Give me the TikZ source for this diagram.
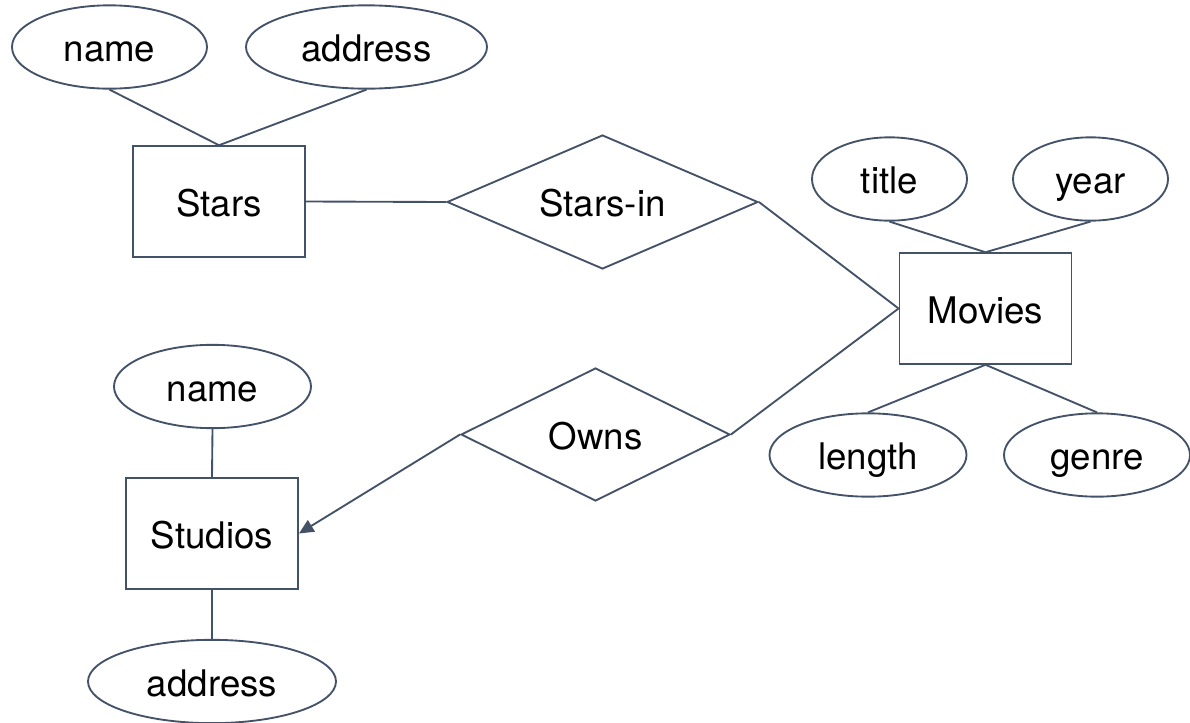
\documentclass[tikz,border=0pt]{standalone}
\usepackage{fontspec}
\setmainfont{TeX Gyre Heros}
\usetikzlibrary{shapes.geometric,arrows.meta}
\definecolor{edge}{RGB}{68,82,104}
\begin{document}
\begin{tikzpicture}[x=0.75pt,y=-0.75pt,
  every node/.style={font=\fontsize{27.5}{32}\selectfont, text=black, draw=edge, line width=1.4pt,
    inner sep=0pt, text height=22pt, text depth=0pt},
  entity/.style={rectangle, minimum width=129pt, minimum height=83pt},
  attr/.style={ellipse, minimum height=62.5pt},
  rel/.style={diamond, aspect=2},
  link/.style={draw=edge, line width=1.4pt},
  arrowlink/.style={link, -{Triangle[length=11pt,width=10pt]}}]
\useasboundingbox (0,0) rectangle (1190,722);

% entities
\node[entity] (stars) at (219,201.5) {Stars};
\node[entity] (movies) at (985.5,308.5) {Movies};
\node[entity] (studios) at (212,533.5) {Studios};

% relationships
\node[rel, minimum width=233.25pt, minimum height=100.5pt] (starsin) at (602.5,202) {Stars-in};
\node[rel, minimum width=201.75pt, minimum height=99.75pt] (owns) at (595.5,434.5) {Owns};

% attributes of Stars
\node[attr, minimum width=146.25pt] (sname) at (109.5,47) {name};
\node[attr, minimum width=180.75pt] (saddr) at (366.5,47) {address};

% attributes of Movies
\node[attr, minimum width=116.25pt] (title) at (889.5,179) {title};
\node[attr, minimum width=116.25pt] (year) at (1090.5,179) {year};
\node[attr, minimum width=147.75pt] (length) at (868,455) {length};
\node[attr, minimum width=139.5pt] (genre) at (1097,455) {genre};

% attributes of Studios
\node[attr, minimum width=147.75pt] (stname) at (212.5,386.5) {name};
\node[attr, minimum width=186pt] (staddr) at (212,681.5) {address};

% connectors
\draw[link] (sname.south) -- (stars.north);
\draw[link] (saddr.south) -- (stars.north);
\draw[link] (title.south) -- (movies.north);
\draw[link] (year.south) -- (movies.north);
\draw[link] (movies.south) -- (length.north);
\draw[link] (movies.south) -- (genre.north);
\draw[link] (stname.south) -- (studios.north);
\draw[link] (studios.south) -- (staddr.north);
\draw[link] (stars.east) -- (starsin.west);
\draw[link] (starsin.east) -- (movies.west);
\draw[link] (owns.east) -- (movies.west);
\draw[arrowlink] (owns.west) -- (studios.east);
\end{tikzpicture}
\end{document}
